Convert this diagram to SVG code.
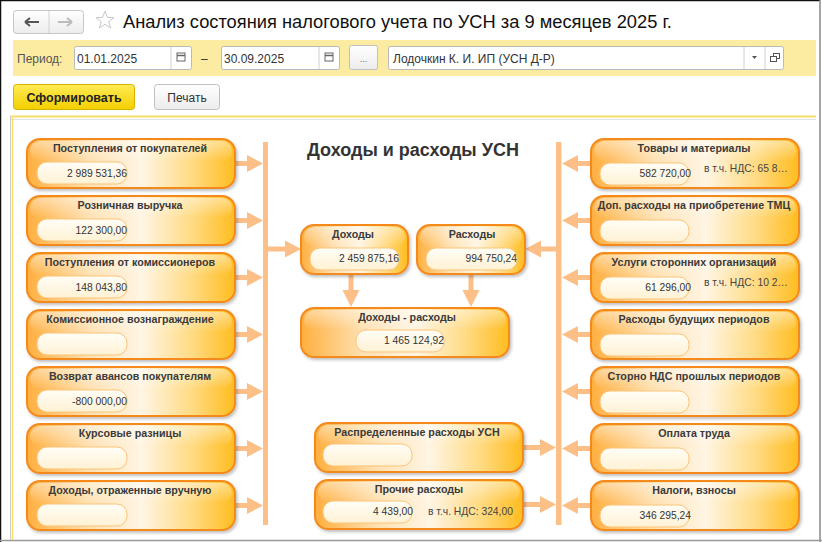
<svg xmlns="http://www.w3.org/2000/svg" width="822" height="542" viewBox="0 0 822 542">
<defs>
<style>
.t{font-family:"Liberation Sans",Arial,sans-serif}
.title{font-size:18.3px;fill:#111}
.lbl{font-size:12px;fill:#555}
.fv{font-size:12px;fill:#333}
.fld0{fill:#fff;stroke:#b9b9b9;stroke-width:1}
.sep{stroke:#d0d0d0;stroke-width:1}
.nb{fill:url(#gN);stroke:#F48A1E;stroke-width:2;filter:url(#ds)}
.gl{fill:url(#gG)}
.nf{fill:url(#gF);stroke:#FBC479;stroke-width:1}
.nt{font-size:10.7px;font-weight:bold;fill:#3a3a3a;text-anchor:middle}
.nv{font-size:10.3px;fill:#333;text-anchor:end}
.nx{font-size:10.3px;fill:#444}
.ar{fill:#FDBF88}
.hd{font-size:18px;font-weight:bold;fill:#333;text-anchor:middle}
</style>
<linearGradient id="gN" x1="0" y1="0" x2="1" y2="0">
<stop offset="0" stop-color="#FFAF3E"/>
<stop offset="0.3" stop-color="#FFE1B2"/>
<stop offset="0.55" stop-color="#FFF5E4"/>
<stop offset="0.8" stop-color="#FFDA80"/>
<stop offset="1" stop-color="#FFBC1E"/>
</linearGradient>
<linearGradient id="gG" x1="0" y1="0" x2="0" y2="1">
<stop offset="0" stop-color="#fff" stop-opacity="0.45"/>
<stop offset="1" stop-color="#fff" stop-opacity="0"/>
</linearGradient>
<linearGradient id="gF" x1="0" y1="0" x2="0" y2="1">
<stop offset="0" stop-color="#FFFDF6"/>
<stop offset="1" stop-color="#FFF2D4"/>
</linearGradient>
<linearGradient id="gY" x1="0" y1="0" x2="0" y2="1">
<stop offset="0" stop-color="#FFEB55"/>
<stop offset="1" stop-color="#F4CF00"/>
</linearGradient>
<linearGradient id="gW" x1="0" y1="0" x2="0" y2="1">
<stop offset="0" stop-color="#ffffff"/>
<stop offset="1" stop-color="#ececec"/>
</linearGradient>
<filter id="ds" x="-10%" y="-20%" width="125%" height="150%">
<feDropShadow dx="1.5" dy="2" stdDeviation="1.4" flood-color="#000" flood-opacity="0.25"/>
</filter>
</defs>

<rect width="822" height="542" fill="#fff"/>
<!-- window frame -->
<line x1="0" y1="0.5" x2="820" y2="0.5" stroke="#111" stroke-width="1.5"/>
<line x1="0.5" y1="0" x2="0.5" y2="542" stroke="#111" stroke-width="1.5"/>
<line x1="820" y1="0" x2="820" y2="542" stroke="#888" stroke-width="1.5"/>
<line x1="0" y1="540.5" x2="822" y2="540.5" stroke="#999" stroke-width="1.5"/>

<!-- toolbar -->
<g id="nav">
<rect x="13.5" y="10.5" width="70" height="23" rx="3" fill="url(#gW)" stroke="#c6c6c6"/>
<line class="sep" x1="49" y1="11" x2="49" y2="33"/>
<path d="M25,22 H39 M25,22 l5,-4 M25,22 l5,4" stroke="#555" stroke-width="2" fill="none"/>
<path d="M58,22 H72 M72,22 l-5,-4 M72,22 l-5,4" stroke="#bbb" stroke-width="2" fill="none"/>
</g>
<path d="M105,11 L107.4,17.4 L114,17.6 L108.8,21.6 L110.6,28 L105,24.2 L99.4,28 L101.2,21.6 L96,17.6 L102.6,17.4 Z" fill="none" stroke="#c8c8c8" stroke-width="1"/>
<text class="t title" x="123" y="28">Анализ состояния налогового учета по УСН за 9 месяцев 2025 г.</text>

<rect x="13" y="40" width="803" height="36" fill="#FBECA2"/>
<text class="t lbl" x="17" y="63">Период:</text>
<g id="date1">
<rect class="fld0" x="74.5" y="46.5" width="117" height="23" rx="2"/>
<line class="sep" x1="171" y1="47" x2="171" y2="69"/>
<text class="t fv" x="77" y="63">01.01.2025</text>
<rect x="177" y="53" width="8" height="8" fill="none" stroke="#666" stroke-width="1"/>
<line x1="177" y1="55.5" x2="185" y2="55.5" stroke="#666" stroke-width="1.5"/>
</g>
<text class="t fv" x="201" y="63">–</text>
<g id="date2">
<rect class="fld0" x="221.5" y="46.5" width="118" height="23" rx="2"/>
<line class="sep" x1="319" y1="47" x2="319" y2="69"/>
<text class="t fv" x="224" y="63">30.09.2025</text>
<rect x="325" y="53" width="8" height="8" fill="none" stroke="#666" stroke-width="1"/>
<line x1="325" y1="55.5" x2="333" y2="55.5" stroke="#666" stroke-width="1.5"/>
</g>
<g id="dots">
<rect x="349.5" y="45.5" width="28" height="24" rx="2" fill="url(#gW)" stroke="#c0c0c0"/>
<text class="t" x="363.5" y="62" font-size="9" fill="#666" text-anchor="middle">...</text>
</g>
<g id="org">
<rect class="fld0" x="388.5" y="46.5" width="395" height="23" rx="2"/>
<line class="sep" x1="744" y1="47" x2="744" y2="69"/>
<line class="sep" x1="765" y1="47" x2="765" y2="69"/>
<text class="t fv" x="393" y="63">Лодочкин К. И. ИП (УСН Д-Р)</text>
<path d="M752,56 h5 l-2.5,3 z" fill="#555"/>
<rect x="773.5" y="53.5" width="6" height="5" fill="none" stroke="#555"/>
<rect x="770.5" y="56.5" width="6" height="5" fill="#fff" stroke="#555"/>
</g>

<g id="btn-form">
<rect x="13.5" y="84.5" width="121" height="25" rx="3" fill="url(#gY)" stroke="#D4B400"/>
<text class="t" x="74" y="102" font-size="12.5" font-weight="bold" fill="#222" text-anchor="middle">Сформировать</text>
</g>
<g id="btn-print">
<rect x="154.5" y="84.5" width="65" height="25" rx="3" fill="url(#gW)" stroke="#c0c0c0"/>
<text class="t" x="187" y="102" font-size="12" fill="#333" text-anchor="middle">Печать</text>
</g>

<!-- report frame -->
<line x1="10" y1="116.5" x2="816" y2="116.5" stroke="#F7DC6A" stroke-width="2"/>
<line x1="10" y1="119.5" x2="816" y2="119.5" stroke="#e2e2e2" stroke-width="1"/>
<line x1="10.5" y1="116" x2="10.5" y2="540" stroke="#cfcfcf" stroke-width="1"/>
<line x1="12.5" y1="118" x2="12.5" y2="540" stroke="#F7DC6A" stroke-width="1.5"/>

<text class="t hd" x="413" y="156">Доходы и расходы УСН</text>

<!-- connectors -->
<g id="connectors">
<rect class="ar" x="263" y="142" width="5" height="383"/>
<rect class="ar" x="556" y="142" width="5.5" height="383"/>
<path class="ar" d="M235,161 H247 V155 L263,163.5 L247,172 V166 H235 Z"/>
<path class="ar" d="M235,218 H247 V212 L263,220.5 L247,229 V223 H235 Z"/>
<path class="ar" d="M235,275 H247 V269 L263,277.5 L247,286 V280 H235 Z"/>
<path class="ar" d="M235,332 H247 V326 L263,334.5 L247,343 V337 H235 Z"/>
<path class="ar" d="M235,389 H247 V383 L263,391.5 L247,400 V394 H235 Z"/>
<path class="ar" d="M235,446 H247 V440 L263,448.5 L247,457 V451 H235 Z"/>
<path class="ar" d="M235,503 H247 V497 L263,505.5 L247,514 V508 H235 Z"/>
<path class="ar" d="M268,246.5 H285 V240.5 L301,249 L285,257.5 V251.5 H268 Z"/>
<path class="ar" d="M556,246.5 H541 V240.5 L525,249 L541,257.5 V251.5 H556 Z"/>
<path class="ar" d="M348.5,274 V290 H342.5 L351,307 L359.5,290 H353.5 V274 Z"/>
<path class="ar" d="M468.5,274 V290 H462.5 L471,307 L479.5,290 H473.5 V274 Z"/>
<path class="ar" d="M523,445 H540 V439 L556,447.5 L540,456 V450 H523 Z"/>
<path class="ar" d="M523,502 H540 V496 L556,504.5 L540,513 V507 H523 Z"/>
<path class="ar" d="M591,161 H578 V155 L562,163.5 L578,172 V166 H591 Z"/>
<path class="ar" d="M591,218 H578 V212 L562,220.5 L578,229 V223 H591 Z"/>
<path class="ar" d="M591,275 H578 V269 L562,277.5 L578,286 V280 H591 Z"/>
<path class="ar" d="M591,332 H578 V326 L562,334.5 L578,343 V337 H591 Z"/>
<path class="ar" d="M591,389 H578 V383 L562,391.5 L578,400 V394 H591 Z"/>
<path class="ar" d="M591,446 H578 V440 L562,448.5 L578,457 V451 H591 Z"/>
<path class="ar" d="M591,503 H578 V497 L562,505.5 L578,514 V508 H591 Z"/>
</g>

<!-- left nodes -->
<g id="n-postupleniya-pokupateli" class="t" transform="translate(27,139)">
<rect class="nb" width="208" height="49" rx="13"/><rect class="gl" x="3" y="2" width="202" height="20" rx="10"/>
<text class="nt" x="103" y="13">Поступления от покупателей</text>
<rect class="nf" x="10" y="23" width="90" height="22" rx="10"/>
<text class="nv" x="100" y="38">2 989 531,36</text>
</g>
<g id="n-roznichnaya" class="t" transform="translate(27,196)">
<rect class="nb" width="208" height="49" rx="13"/><rect class="gl" x="3" y="2" width="202" height="20" rx="10"/>
<text class="nt" x="103" y="13">Розничная выручка</text>
<rect class="nf" x="10" y="23" width="90" height="22" rx="10"/>
<text class="nv" x="100" y="38">122 300,00</text>
</g>
<g id="n-komissionery" class="t" transform="translate(27,253)">
<rect class="nb" width="208" height="49" rx="13"/><rect class="gl" x="3" y="2" width="202" height="20" rx="10"/>
<text class="nt" x="103" y="13">Поступления от комиссионеров</text>
<rect class="nf" x="10" y="23" width="90" height="22" rx="10"/>
<text class="nv" x="100" y="38">148 043,80</text>
</g>
<g id="n-komissionnoe" class="t" transform="translate(27,310)">
<rect class="nb" width="208" height="49" rx="13"/><rect class="gl" x="3" y="2" width="202" height="20" rx="10"/>
<text class="nt" x="103" y="13">Комиссионное вознаграждение</text>
<rect class="nf" x="10" y="23" width="90" height="22" rx="10"/>
</g>
<g id="n-vozvrat" class="t" transform="translate(27,367)">
<rect class="nb" width="208" height="49" rx="13"/><rect class="gl" x="3" y="2" width="202" height="20" rx="10"/>
<text class="nt" x="103" y="13">Возврат авансов покупателям</text>
<rect class="nf" x="10" y="23" width="90" height="22" rx="10"/>
<text class="nv" x="100" y="38">-800 000,00</text>
</g>
<g id="n-kursovye" class="t" transform="translate(27,424)">
<rect class="nb" width="208" height="49" rx="13"/><rect class="gl" x="3" y="2" width="202" height="20" rx="10"/>
<text class="nt" x="103" y="13">Курсовые разницы</text>
<rect class="nf" x="10" y="23" width="90" height="22" rx="10"/>
</g>
<g id="n-dohody-vruchnuyu" class="t" transform="translate(27,481)">
<rect class="nb" width="208" height="49" rx="13"/><rect class="gl" x="3" y="2" width="202" height="20" rx="10"/>
<text class="nt" x="103" y="13">Доходы, отраженные вручную</text>
<rect class="nf" x="10" y="23" width="90" height="22" rx="10"/>
</g>

<!-- center nodes -->
<g id="n-dohody" class="t" transform="translate(301,225)">
<rect class="nb" width="107" height="49" rx="13"/><rect class="gl" x="3" y="2" width="101" height="20" rx="10"/>
<text class="nt" x="52" y="13">Доходы</text>
<rect class="nf" x="9" y="23" width="89" height="22" rx="10"/>
<text class="nv" x="98" y="37">2 459 875,16</text>
</g>
<g id="n-rashody" class="t" transform="translate(417,225)">
<rect class="nb" width="108" height="49" rx="13"/><rect class="gl" x="3" y="2" width="102" height="20" rx="10"/>
<text class="nt" x="55" y="13">Расходы</text>
<rect class="nf" x="9" y="23" width="91" height="22" rx="10"/>
<text class="nv" x="100" y="37">994 750,24</text>
</g>
<g id="n-raznica" class="t" transform="translate(301,308)">
<rect class="nb" width="208" height="49" rx="13"/><rect class="gl" x="3" y="2" width="202" height="20" rx="10"/>
<text class="nt" x="106" y="13">Доходы - расходы</text>
<rect class="nf" x="55" y="22" width="88" height="22" rx="10"/>
<text class="nv" x="143" y="36">1 465 124,92</text>
</g>
<g id="n-raspredelennye" class="t" transform="translate(315,423)">
<rect class="nb" width="208" height="49" rx="13"/><rect class="gl" x="3" y="2" width="202" height="20" rx="10"/>
<text class="nt" x="102" y="13">Распределенные расходы УСН</text>
<rect class="nf" x="8" y="21" width="89" height="22" rx="10"/>
</g>
<g id="n-prochie" class="t" transform="translate(315,480)">
<rect class="nb" width="208" height="49" rx="13"/><rect class="gl" x="3" y="2" width="202" height="20" rx="10"/>
<text class="nt" x="104" y="13">Прочие расходы</text>
<rect class="nf" x="8" y="21" width="89" height="22" rx="10"/>
<text class="nv" x="98" y="35">4 439,00</text>
<text class="nx" x="113" y="35">в т.ч. НДС: 324,00</text>
</g>

<!-- right nodes -->
<g id="n-tovary" class="t" transform="translate(591,139)">
<rect class="nb" width="208" height="49" rx="13"/><rect class="gl" x="3" y="2" width="202" height="20" rx="10"/>
<text class="nt" x="103" y="13">Товары и материалы</text>
<rect class="nf" x="9" y="24" width="89" height="22" rx="10"/>
<text class="nv" x="100" y="38">582 720,00</text>
<text class="nx" x="113" y="33">в т.ч. НДС: 65 8…</text>
</g>
<g id="n-dop-rashody" class="t" transform="translate(591,196)">
<rect class="nb" width="208" height="49" rx="13"/><rect class="gl" x="3" y="2" width="202" height="20" rx="10"/>
<text class="nt" x="103" y="13">Доп. расходы на приобретение ТМЦ</text>
<rect class="nf" x="9" y="24" width="89" height="22" rx="10"/>
</g>
<g id="n-uslugi" class="t" transform="translate(591,253)">
<rect class="nb" width="208" height="49" rx="13"/><rect class="gl" x="3" y="2" width="202" height="20" rx="10"/>
<text class="nt" x="103" y="13">Услуги сторонних организаций</text>
<rect class="nf" x="9" y="24" width="89" height="22" rx="10"/>
<text class="nv" x="100" y="38">61 296,00</text>
<text class="nx" x="113" y="33">в т.ч. НДС: 10 2…</text>
</g>
<g id="n-budushchih" class="t" transform="translate(591,310)">
<rect class="nb" width="208" height="49" rx="13"/><rect class="gl" x="3" y="2" width="202" height="20" rx="10"/>
<text class="nt" x="103" y="13">Расходы будущих периодов</text>
<rect class="nf" x="9" y="24" width="89" height="22" rx="10"/>
</g>
<g id="n-storno" class="t" transform="translate(591,367)">
<rect class="nb" width="208" height="49" rx="13"/><rect class="gl" x="3" y="2" width="202" height="20" rx="10"/>
<text class="nt" x="103" y="13">Сторно НДС прошлых периодов</text>
<rect class="nf" x="9" y="24" width="89" height="22" rx="10"/>
</g>
<g id="n-oplata" class="t" transform="translate(591,424)">
<rect class="nb" width="208" height="49" rx="13"/><rect class="gl" x="3" y="2" width="202" height="20" rx="10"/>
<text class="nt" x="103" y="13">Оплата труда</text>
<rect class="nf" x="9" y="24" width="89" height="22" rx="10"/>
</g>
<g id="n-nalogi" class="t" transform="translate(591,481)">
<rect class="nb" width="208" height="49" rx="13"/><rect class="gl" x="3" y="2" width="202" height="20" rx="10"/>
<text class="nt" x="103" y="13">Налоги, взносы</text>
<rect class="nf" x="9" y="24" width="89" height="22" rx="10"/>
<text class="nv" x="100" y="38">346 295,24</text>
</g>
</svg>
